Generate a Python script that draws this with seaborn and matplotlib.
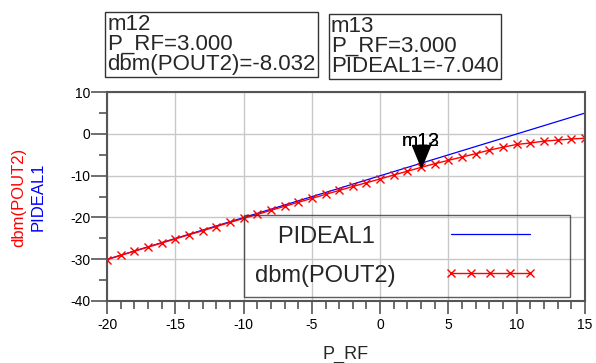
import matplotlib
matplotlib.use("Agg")
import matplotlib.pyplot as plt
from matplotlib.ticker import MultipleLocator
import seaborn as sns
import pandas as pd

# swept input power (dBm)
p_rf = [-20, -19, -18, -17, -16, -15, -14, -13, -12, -11, -10, -9,
        -8, -7, -6, -5, -4, -3, -2, -1, 0, 1, 2, 3,
        4, 5, 6, 7, 8, 9, 10, 11, 12, 13, 14, 15]

# ideal (linear) output power
pideal1 = [-30.04, -29.04, -28.04, -27.04, -26.04, -25.04, -24.04, -23.04, -22.04, -21.04, -20.04, -19.04,
           -18.04, -17.04, -16.04, -15.04, -14.04, -13.04, -12.04, -11.04, -10.04, -9.04, -8.04, -7.04,
           -6.04, -5.04, -4.04, -3.04, -2.04, -1.04, -0.04, 0.96, 1.96, 2.96, 3.96, 4.96]

# simulated output power
dbm_pout2 = [-30.1, -29.1, -28.1, -27.1, -26.15, -25.15, -24.15, -23.2, -22.2, -21.2, -20.25, -19.3,
             -18.3, -17.35, -16.4, -15.45, -14.5, -13.55, -12.6, -11.7, -10.8, -9.85, -8.95, -8.032,
             -7.15, -6.35, -5.55, -4.75, -3.9, -3.2, -2.55, -2.2, -1.75, -1.5, -1.25, -1.05]

# marker readouts
marker_x = 3.0
marker_pout2 = -8.032
marker_pideal = -7.040

df = pd.DataFrame({"P_RF": p_rf, "PIDEAL1": pideal1, "dbm(POUT2)": dbm_pout2})

sns.set_style("white")
plt.rcParams["font.family"] = ["Liberation Sans", "DejaVu Sans"]
plt.rcParams["axes.unicode_minus"] = False

W, H = 596, 363
fig = plt.figure(figsize=(W / 100, H / 100), dpi=100)
ax = fig.add_axes([107 / W, 1 - 301 / H, (585 - 107) / W, (301 - 92) / H])

sns.lineplot(data=df, x="P_RF", y="PIDEAL1", color="#0000ff", lw=0.9, ax=ax)
sns.lineplot(data=df, x="P_RF", y="dbm(POUT2)", color="#ff0000", lw=1.0,
             marker="x", markersize=5.5, markeredgewidth=1.0,
             markeredgecolor="#ff0000", ax=ax)
blue_line, red_line = ax.get_lines()[:2]

ax.set_xlim(-20, 15)
ax.set_ylim(-40, 10)
ax.xaxis.set_major_locator(MultipleLocator(5))
ax.xaxis.set_minor_locator(MultipleLocator(1))
ax.yaxis.set_major_locator(MultipleLocator(10))
ax.yaxis.set_minor_locator(MultipleLocator(5))
ax.grid(True, which="major", color="#c8c8c8", lw=1.0)
ax.set_axisbelow(True)

for s in ax.spines.values():
    s.set_visible(True)
    s.set_color("#555555")
    s.set_linewidth(1.5)

ax.tick_params(axis="both", which="both", bottom=True, left=True, direction="out",
               color="#555555", width=1.2, labelsize=10, labelcolor="black")
ax.tick_params(axis="x", which="major", length=9, pad=3)
ax.tick_params(axis="x", which="minor", length=6)
ax.tick_params(axis="y", which="major", length=11.5, pad=0.5)
ax.tick_params(axis="y", which="minor", length=6)

ax.set_xlabel("P_RF", fontsize=13, labelpad=10)
ax.set_ylabel("")
fig.text(18.5 / W, 0.457, "dbm(POUT2)", rotation=90, color="#ff0000",
         fontsize=12, ha="center", va="center")
fig.text(38.5 / W, 0.457, "PIDEAL1", rotation=90, color="#0000ff",
         fontsize=12, ha="center", va="center")

# marker triangle, tip on the data point
tri = [(0, 0), (-0.41, 1), (0.41, 1), (0, 0)]
ax.plot([marker_x], [marker_pout2], marker=tri, ms=31.7, color="black",
        ls="none", zorder=5)
for name in ["m13", "m12"]:
    ax.annotate(name, xy=(marker_x, marker_pout2), xytext=(0, 12.5),
                textcoords="offset points", ha="center", va="bottom",
                fontsize=14, color="black", zorder=6)

# marker readout boxes
box = dict(boxstyle="square,pad=0.1", fc="white", ec="#333333", lw=1.0)
fig.text(107.5 / W, 1 - 14 / H,
         f"m12\nP_RF={marker_x:.3f}\ndbm(POUT2)={marker_pout2:.3f}",
         fontsize=16, va="top", ha="left", linespacing=0.93, bbox=box)
fig.text(331 / W, 1 - 16 / H,
         f"m13\nP_RF={marker_x:.3f}\nPIDEAL1={marker_pideal:.3f}",
         fontsize=16, va="top", ha="left", linespacing=0.93, bbox=box)

leg = ax.legend(handles=[blue_line, red_line], labels=["PIDEAL1   ", "dbm(POUT2)"],
                loc="upper left",
                bbox_to_anchor=(244 / W, 1 - 215 / H, (570 - 244) / W, 0.0),
                bbox_transform=fig.transFigure, mode="expand", borderaxespad=0,
                markerfirst=False, handlelength=3.95, handletextpad=2.05,
                numpoints=5, fontsize=17, frameon=True, fancybox=False,
                borderpad=0.45, labelspacing=0.72)
leg.get_frame().set_facecolor("none")
leg.get_frame().set_edgecolor("#333333")
leg.get_frame().set_linewidth(1.0)

fig.savefig("out.png", dpi=100)
